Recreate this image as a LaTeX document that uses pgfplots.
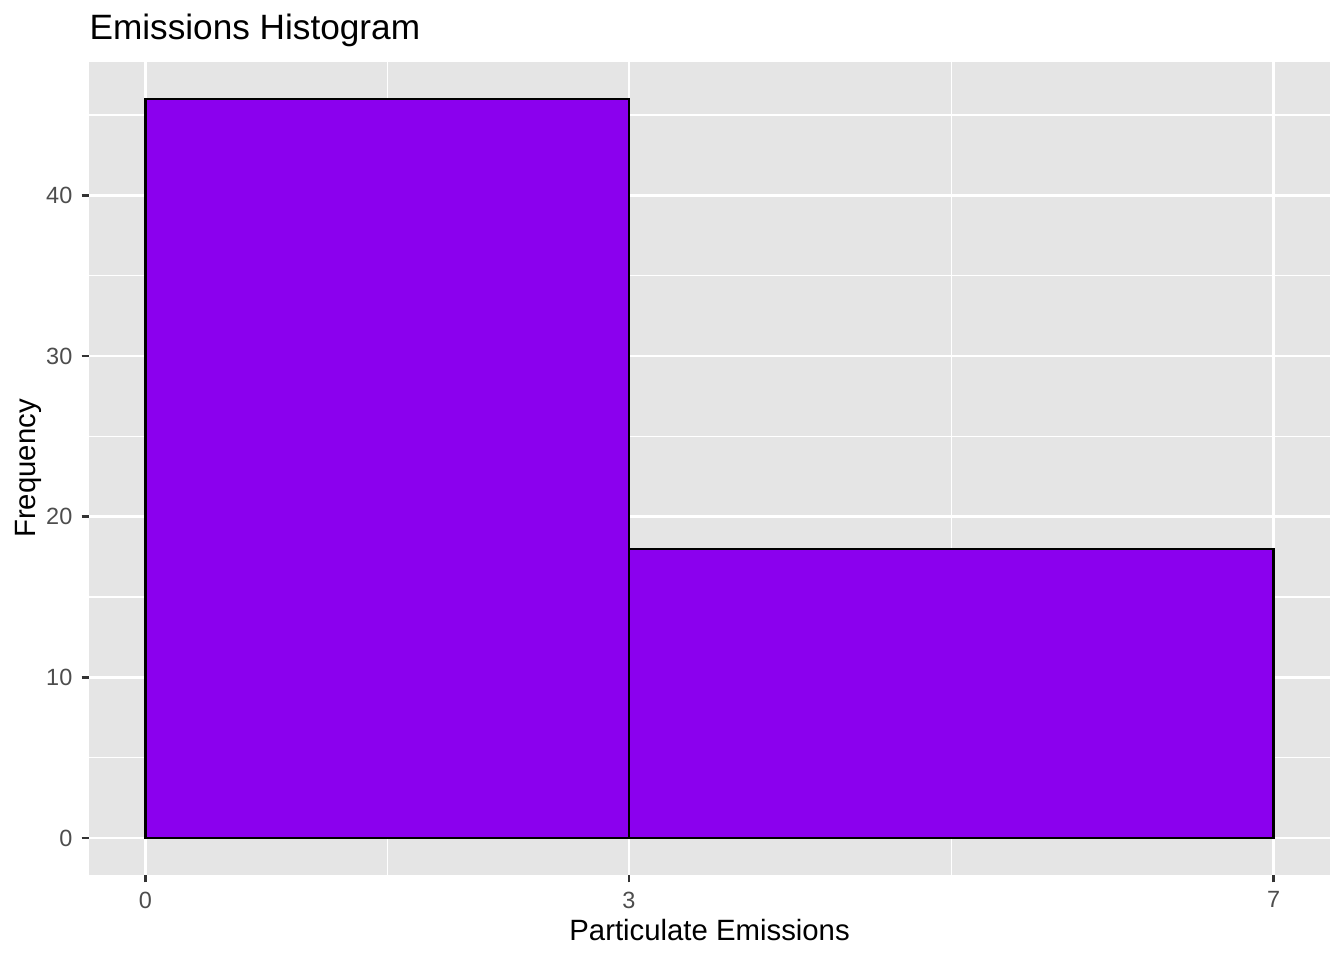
\documentclass[border=0pt]{standalone}
\usepackage{pgfplots}
\pgfplotsset{compat=1.18}
\usepackage{fontspec}
\setmainfont{Liberation Sans}
\definecolor{panelbg}{HTML}{E5E5E5}
\definecolor{tickcol}{HTML}{333333}
\definecolor{ticklab}{HTML}{4D4D4D}
\definecolor{barfill}{HTML}{8B00EE}
\begin{document}
\begin{tikzpicture}
\path[use as bounding box] (-33.4pt,-31.9pt) rectangle (470.6pt,328.1pt);
\begin{axis}[
  at={(0,0)}, anchor=south west,
  scale only axis,
  width=465.4pt, height=304.9pt,
  xmin=-0.35, xmax=7.35,
  ymin=-2.3, ymax=48.3,
  xtick={0,3,7},
  ytick={0,10,20,30,40},
  minor xtick={1.5,5},
  minor ytick={5,15,25,35,45},
  grid=both,
  major grid style={white, line width=1.0pt},
  minor grid style={white, line width=0.5pt},
  axis background/.style={fill=panelbg},
  axis line style={draw=none},
  tick pos=left,
  tick align=outside,
  major tick length=2.75pt,
  minor tick length=0pt,
  every tick/.style={tickcol, line width=1.0pt},
  /pgf/number format/assume math mode=true,
  ticklabel style={font=\fontsize{8.8}{10}\selectfont, text=ticklab},
  xlabel={Particulate Emissions},
  ylabel={Frequency},
  label style={font=\fontsize{11}{13}\selectfont},
  xlabel style={at={(axis description cs:0.5,0)}, anchor=base, yshift=-24.4pt, inner sep=0pt},
  ylabel style={at={(axis description cs:0,0.5)}, anchor=base, yshift=19.9pt, inner sep=0pt},
  title={Emissions Histogram},
  title style={at={(axis description cs:0,1)}, anchor=base west, yshift=2.3pt, inner sep=0pt, font=\fontsize{13.2}{15}\selectfont},
]
\addplot[ybar interval, fill=barfill, draw=black, line width=0.9pt] coordinates {(0,46) (3,18) (7,18)};
\end{axis}
\end{tikzpicture}
\end{document}
